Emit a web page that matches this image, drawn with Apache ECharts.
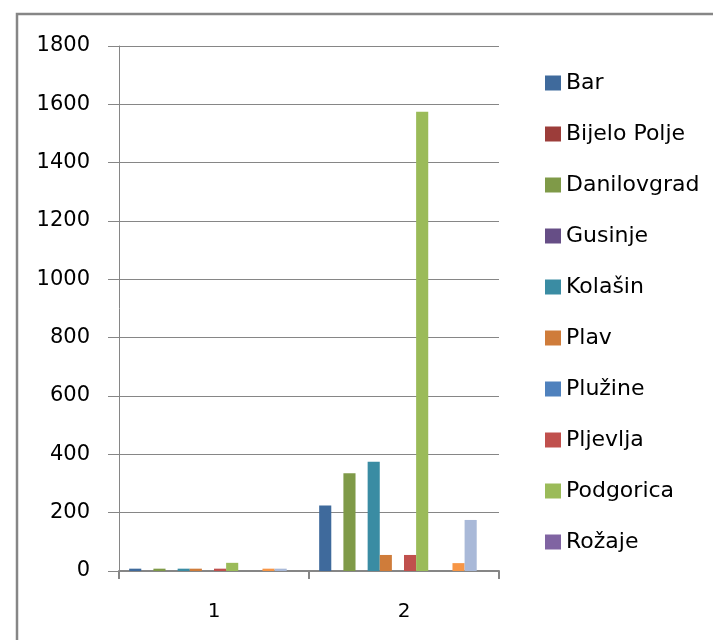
<!DOCTYPE html>
<html><head><meta charset="utf-8">
<script src="https://cdn.jsdelivr.net/npm/echarts@6/dist/echarts.min.js"></script>
<style>html,body{margin:0;padding:0;background:#fff}#c{width:713px;height:640px}</style>
</head><body><div id="c"></div>
<script>
const categories = ['1', '2'];
const seriesNames = ['Bar', 'Bijelo Polje', 'Danilovgrad', 'Gusinje', 'Kolašin', 'Plav', 'Plužine', 'Pljevlja', 'Podgorica', 'Rožaje', 'Šavnik', 'Tivat', 'Ulcinj', 'Žabljak'];
const legendNames = ['Bar', 'Bijelo Polje', 'Danilovgrad', 'Gusinje', 'Kolašin', 'Plav', 'Plužine', 'Pljevlja', 'Podgorica', 'Rožaje'];
const colors = ['#3F6A9C', '#9C3D3A', '#7F9A48', '#664E86', '#3A8CA3', '#CF7C3A', '#4F81BD', '#C0504D', '#9BBB59', '#8064A2', '#4BACC6', '#F79646', '#A9B9D8', '#D99694'];
const values = [
  [8, 225],
  [0, 0],
  [8, 335],
  [0, 0],
  [8, 375],
  [8, 55],
  [0, 0],
  [8, 55],
  [28, 1575],
  [0, 0],
  [0, 0],
  [8, 27],
  [8, 175],
  [0, 0]
];
const yTicks = {min: 0, max: 1800, interval: 200};

const chart = echarts.init(document.getElementById('c'), null, {renderer: 'canvas'});
const series = seriesNames.map((n, i) => ({
  name: n, type: 'bar', data: values[i],
  itemStyle: {color: colors[i]},
  barGap: '0%', barCategoryGap: '10.7%',
  emphasis: {disabled: true}
}));
chart.setOption({
  animation: false,
  color: colors,
  graphic: [{
    type: 'rect', shape: {x: 17, y: 14, width: 720, height: 660},
    style: {fill: 'none', stroke: '#868686', lineWidth: 2.5}, silent: true
  }],
  grid: {left: 119, right: 214, top: 46, bottom: 69, containLabel: false},
  legend: {
    data: legendNames, orient: 'vertical', left: 540, top: 67,
    itemWidth: 16, itemHeight: 15, itemGap: 29,
    icon: 'rect',
    textStyle: {fontFamily: 'DejaVu Sans', fontSize: 22, color: '#000'}
  },
  xAxis: {
    type: 'category', data: categories,
    axisLine: {lineStyle: {color: '#868686', width: 2}},
    axisTick: {show: true, length: 8, lineStyle: {color: '#868686', width: 2}, alignWithLabel: false},
    axisLabel: {fontFamily: 'DejaVu Sans', fontSize: 20, color: '#000', margin: 31}
  },
  yAxis: {
    type: 'value', min: yTicks.min, max: yTicks.max, interval: yTicks.interval,
    axisLine: {show: true, lineStyle: {color: '#868686', width: 1}},
    axisTick: {show: true, length: 11, lineStyle: {color: '#868686', width: 1}},
    splitLine: {show: true, lineStyle: {color: '#868686', width: 1}},
    axisLabel: {fontFamily: 'DejaVu Sans', fontSize: 21, color: '#000', margin: 29, formatter: v => String(v)}
  },
  series: series
});
</script></body></html>
